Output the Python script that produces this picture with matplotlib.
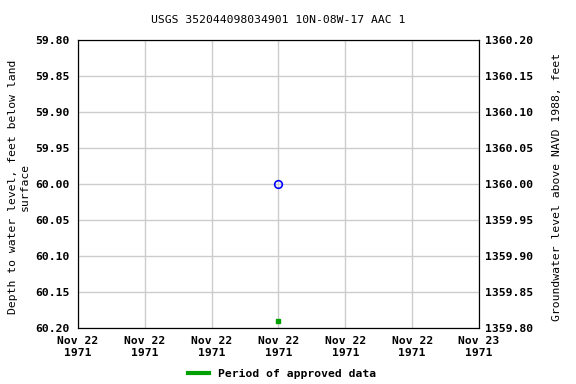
import matplotlib
matplotlib.use('Agg')
import matplotlib.pyplot as plt
import matplotlib.dates as mdates
import numpy as np
from datetime import datetime

# data
meas_time = [datetime(1971, 11, 22, 12, 0)]
depth = [60.00]
approved_time = [datetime(1971, 11, 22, 12, 0)]
approved_level = [60.19]
x_start = datetime(1971, 11, 22, 0, 0)
x_end = datetime(1971, 11, 23, 0, 0)
left_ticks = [59.80, 59.85, 59.90, 59.95, 60.00, 60.05, 60.10, 60.15, 60.20]
datum = 1420.00  # land surface altitude, feet

plt.rcParams['font.family'] = 'DejaVu Sans Mono'
plt.rcParams['font.weight'] = 'bold'
plt.rcParams['font.size'] = 8.2

fig = plt.figure(figsize=(5.76, 3.84), dpi=100)
ax = fig.add_axes([0.1354, 0.1458, 0.6962, 0.75])

ax.plot(meas_time, depth, 'o', mfc='none', mec='#0000ff', ms=5.5, mew=1.2)
ax.plot(approved_time, approved_level, 's', color='#00a000', ms=3)

ax.set_xlim(x_start, x_end)
ax.set_ylim(60.20, 59.80)
ax.set_yticks(left_ticks)
ax.set_yticklabels([f'{v:.2f}' for v in left_ticks])
ax.xaxis.set_major_locator(mdates.HourLocator(byhour=[0, 4, 8, 12, 16, 20]))
ax.xaxis.set_major_formatter(mdates.DateFormatter('%b %d\n%Y'))
for lbl in ax.get_xticklabels():
    lbl.set_linespacing(1.2)
ax.grid(True, color='#cccccc', lw=1)
ax.tick_params(axis='x', length=0, pad=6)
ax.tick_params(axis='y', length=0, pad=6)
ax.set_ylabel('Depth to water level, feet below land\nsurface')
ax.yaxis.set_label_coords(-0.12, 0.49)
ax.set_title('USGS 352044098034901 10N-08W-17 AAC 1', fontsize=8.2, pad=12.5)

ax2 = ax.twinx()
ax2.set_ylim(datum - 60.20, datum - 59.80)
ax2.set_yticks([datum - v for v in left_ticks])
ax2.set_yticklabels([f'{datum - v:.2f}' for v in left_ticks])
ax2.tick_params(length=0, pad=4.5)
ax2.set_ylabel('Groundwater level above NAVD 1988, feet')
ax2.yaxis.set_label_coords(1.183, 0.49)

fig.legend([plt.Line2D([], [], color='#00a000', lw=3)], ['Period of approved data'],
           loc='lower center', bbox_to_anchor=(0.49, -0.014), frameon=False,
           handlelength=1.8)

fig.savefig('out.png', dpi=100)
